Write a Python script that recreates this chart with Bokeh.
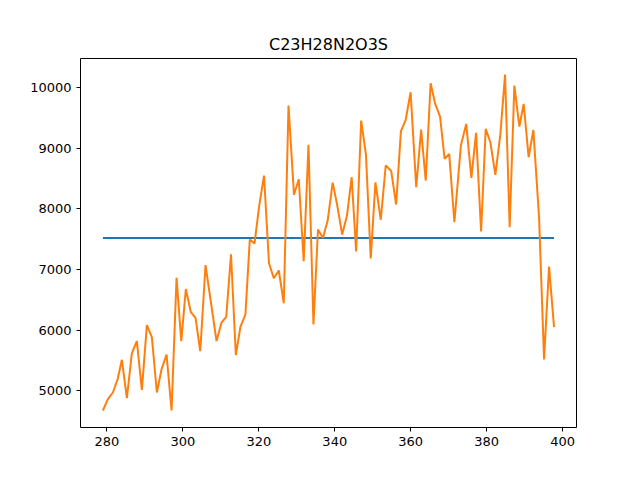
from bokeh.plotting import figure
from bokeh.models import Range1d, FixedTicker
from bokeh.embed import file_html
from bokeh.resources import INLINE

# orange series
mass = [278.95, 280.26, 281.58, 282.82, 283.95, 285.26, 286.58, 287.89, 289.21, 290.53,
        291.84, 293.16, 294.39, 295.71, 297.03, 298.34, 299.58, 300.79, 302.11, 303.34,
        304.58, 305.97, 308.87, 310.18, 311.42, 312.68, 313.95, 315.18, 316.47, 317.63,
        318.87, 320.11, 321.37, 322.68, 323.95, 325.26, 326.58, 327.82, 329.26, 330.53,
        331.82, 333.08, 334.39, 335.58, 336.89, 338.13, 339.45, 340.66, 341.95, 343.21,
        344.45, 345.63, 346.95, 348.21, 349.47, 350.71, 352.11, 353.42, 354.87, 356.16,
        357.42, 358.66, 359.97, 361.45, 362.74, 363.95, 365.24, 366.45, 367.74, 368.92,
        370.13, 371.50, 373.21, 374.61, 375.97, 377.21, 378.53, 379.74, 380.97, 382.29,
        383.61, 384.84, 386.05, 387.29, 388.61, 389.74, 391.05, 392.29, 393.79, 395.11,
        396.42, 397.74]
intensity = [4675, 4862, 4972, 5191, 5511, 4878, 5620, 5818, 5016, 6082,
             5884, 4972, 5356, 5598, 4675, 6863, 5818, 6678, 6296, 6204,
             5653, 7074, 5821, 6126, 6220, 7251, 5590, 6060, 6258, 7495,
             7429, 8055, 8550, 7104, 6857, 6984, 6444, 9704, 8232, 8489,
             7137, 9056, 6093, 7660, 7519, 7808, 8434, 8055, 7577, 7885,
             8522, 7297, 9457, 8896, 7181, 8439, 7821, 8715, 8624, 8072,
             9284, 9465, 9923, 8357, 9308, 8467, 10072, 9732, 9518, 8825,
             8908, 7780, 9045, 9402, 8512, 9254, 7627, 9320, 9099, 8561,
             9237, 10215, 7698, 10033, 9358, 9732, 8852, 9303, 7863, 5516,
             7049, 6049]

# blue flat line
level_x = [278.95, 397.74]
level_y = [7520, 7520]

x_ticks = [280, 300, 320, 340, 360, 380, 400]
y_ticks = [5000, 6000, 7000, 8000, 9000, 10000]

W, H = 620, 460
p = figure(width=W, height=H, output_backend="svg", toolbar_location=None,
           title="C23H28N2O3S",
           x_range=Range1d(273.05, 403.65), y_range=Range1d(4395, 10480),
           min_border_left=80, min_border_right=W - 80 - 496,
           min_border_top=58, min_border_bottom=H - 58 - 369)

p.line(level_x, level_y, line_color="#1f77b4", line_width=2)
p.line(mass, intensity, line_color="#ff7f0e", line_width=2)

p.title.align = "center"
p.title.text_font = "DejaVu Sans"
p.title.text_font_style = "normal"
p.title.text_font_size = "16px"
p.title.text_color = "black"

p.grid.visible = False
p.outline_line_color = "black"
p.outline_line_width = 1
p.background_fill_color = "white"
p.border_fill_color = "white"

p.xaxis.ticker = FixedTicker(ticks=x_ticks)
p.yaxis.ticker = FixedTicker(ticks=y_ticks)
for ax in (p.xaxis, p.yaxis):
    ax.axis_line_color = None
    ax.minor_tick_line_color = None
    ax.major_tick_out = 4
    ax.major_tick_in = 0
    ax.major_tick_line_color = "black"
    ax.major_label_text_font = "DejaVu Sans"
    ax.major_label_text_font_size = "13px"
    ax.major_label_text_color = "black"

open("out.html", "w").write(file_html(p, INLINE))
